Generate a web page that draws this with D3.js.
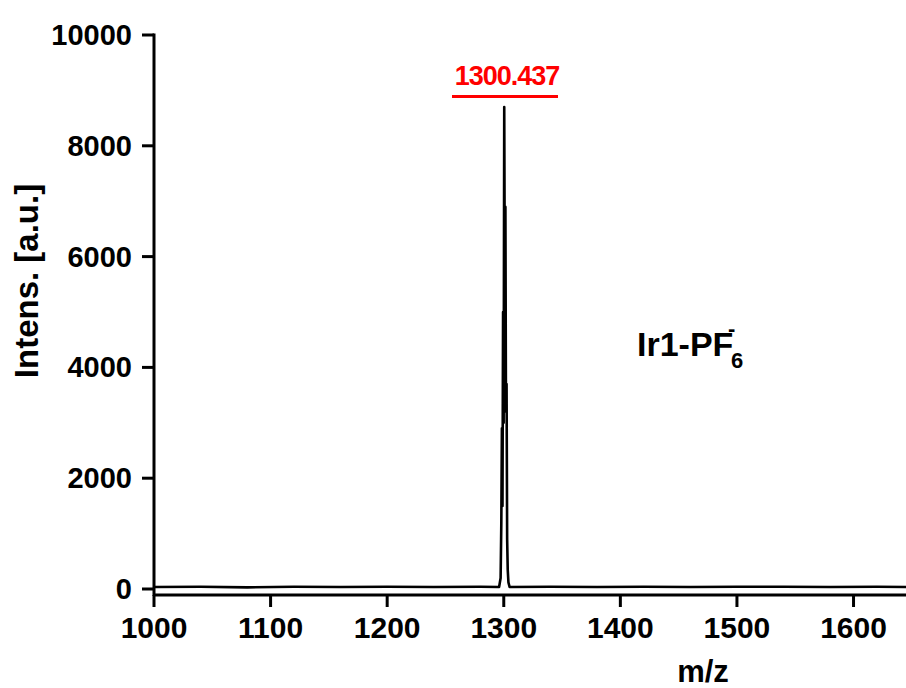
<!DOCTYPE html>
<html>
<head>
<meta charset="utf-8">
<script src="https://cdn.jsdelivr.net/npm/d3@7"></script>
<style>
  body { margin: 0; background: #fff; }
  svg text { font-family: "Liberation Sans", Arial, sans-serif; font-weight: bold; }
</style>
</head>
<body>
<div id="chart"></div>
<script>
// 数据：质谱 (m/z vs 强度)
const xTicks = [1000, 1100, 1200, 1300, 1400, 1500, 1600];
const yTicks = [0, 2000, 4000, 6000, 8000, 10000];
// 基线噪声 (低强度)
const baseMz  = [1000, 1040, 1080, 1120, 1160, 1200, 1240, 1280, 1296];
const baseInt = [35, 40, 30, 40, 35, 40, 35, 40, 35];
// 同位素峰
const peakMz  = [1297.3, 1297.9, 1298.4, 1298.9, 1299.4, 1299.9, 1300.4, 1300.9, 1301.4, 1301.9, 1302.4, 1302.9, 1303.4, 1304.0, 1305.0];
const peakInt = [200, 1200, 2900, 1500, 5000, 3000, 8700, 5500, 6900, 3200, 3700, 900, 350, 120, 35];
const tailMz  = [1340, 1380, 1420, 1460, 1500, 1540, 1580, 1620, 1645];
const tailInt = [40, 35, 40, 35, 40, 40, 35, 40, 35];
const peakLabel = '1300.437';

const width = 906, height = 688;
const x0 = 154, x1 = 906, yTop = 35, yZero = 589;

const svg = d3.select('#chart').append('svg')
  .attr('width', width)
  .attr('height', height);

const x = d3.scaleLinear().domain([1000, 1645]).range([x0, x1]);
const y = d3.scaleLinear().domain([0, 10000]).range([yZero, yTop]);

// 数据线
const pts = [];
baseMz.forEach((m, i) => pts.push([m, baseInt[i]]));
peakMz.forEach((m, i) => pts.push([m, peakInt[i]]));
tailMz.forEach((m, i) => pts.push([m, tailInt[i]]));

svg.append('path')
  .datum(pts)
  .attr('fill', 'none')
  .attr('stroke', '#000')
  .attr('stroke-width', 2.6)
  .attr('stroke-linejoin', 'round')
  .attr('d', d3.line().x(d => x(d[0])).y(d => y(d[1])));

// Y 轴
const axisY = svg.append('g').attr('transform', `translate(${x0},0)`);
axisY.append('line')
  .attr('x1', 0).attr('x2', 0)
  .attr('y1', yTop - 1.5).attr('y2', yZero + 7)
  .attr('stroke', '#000').attr('stroke-width', 3);
yTicks.forEach(t => {
  axisY.append('line')
    .attr('x1', -12).attr('x2', 0)
    .attr('y1', y(t)).attr('y2', y(t))
    .attr('stroke', '#000').attr('stroke-width', 3);
  axisY.append('text')
    .attr('x', -22)
    .attr('y', y(t))
    .attr('text-anchor', 'end')
    .attr('dominant-baseline', 'central')
    .style('font-size', '29px')
    .text(t);
});

// X 轴 (比零点略低)
const xAxisY = yZero + 6;
const axisX = svg.append('g').attr('transform', `translate(0,${xAxisY})`);
axisX.append('line')
  .attr('x1', x0).attr('x2', x1)
  .attr('y1', 0).attr('y2', 0)
  .attr('stroke', '#000').attr('stroke-width', 3);
xTicks.forEach(t => {
  axisX.append('line')
    .attr('x1', x(t)).attr('x2', x(t))
    .attr('y1', 0).attr('y2', 12)
    .attr('stroke', '#000').attr('stroke-width', 3);
  axisX.append('text')
    .attr('x', x(t))
    .attr('y', 43)
    .attr('text-anchor', 'middle')
    .style('font-size', '30px')
    .text(t);
});

// 轴标题
svg.append('text')
  .attr('x', 703).attr('y', 682)
  .attr('text-anchor', 'middle')
  .style('font-size', '31px')
  .text('m/z');

svg.append('text')
  .attr('transform', 'translate(38,281) rotate(-90)')
  .attr('text-anchor', 'middle')
  .style('font-size', '33px')
  .text('Intens. [a.u.]');

// 峰标注
svg.append('text')
  .attr('x', 507).attr('y', 85)
  .attr('text-anchor', 'middle')
  .style('font-size', '27px')
  .style('letter-spacing', '-1px')
  .attr('fill', '#f00')
  .text(peakLabel);
svg.append('line')
  .attr('x1', 452).attr('x2', 558)
  .attr('y1', 96.5).attr('y2', 96.5)
  .attr('stroke', '#f00').attr('stroke-width', 3);

// 样品名称 (上标 "-"，下标 "6")
const name = svg.append('text')
  .attr('x', 637).attr('y', 356)
  .style('font-size', '34px');
name.append('tspan').text('Ir1-PF');
name.append('tspan').attr('x', 728).attr('y', 336).style('font-size', '22px').text('-');
name.append('tspan').attr('x', 731).attr('y', 368).style('font-size', '22px').text('6');
</script>
</body>
</html>
